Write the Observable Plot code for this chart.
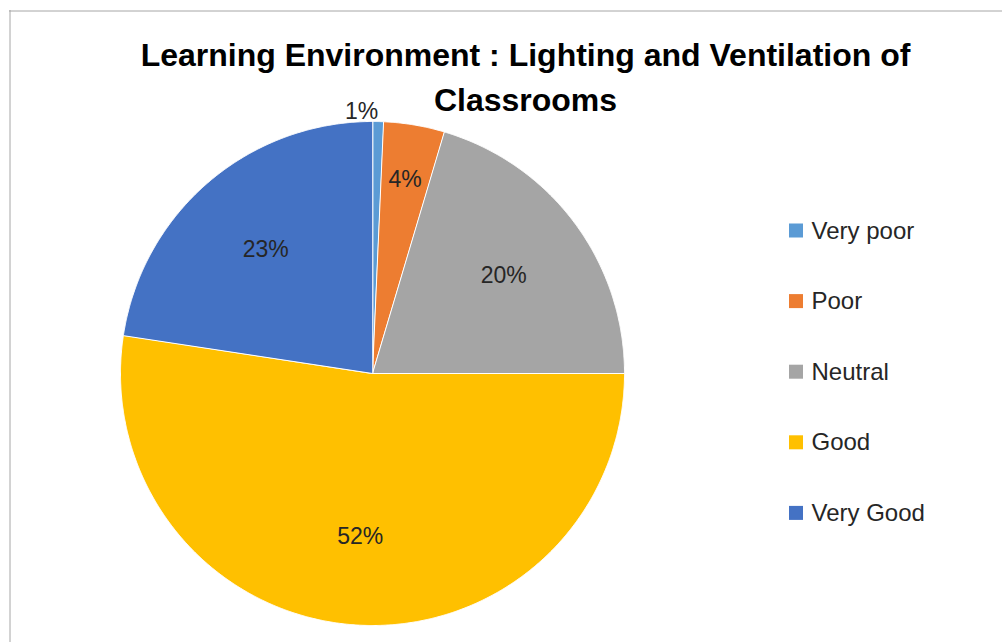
<!DOCTYPE html>
<html><head><meta charset="utf-8">
<script src="https://cdn.jsdelivr.net/npm/d3@7"></script>
<script src="https://cdn.jsdelivr.net/npm/@observablehq/plot@0.6"></script>
<style>html,body{margin:0;padding:0;background:#fff;overflow:hidden}</style>
</head><body><div id="chart"></div>
<script>
const categories = ["Very poor", "Poor", "Neutral", "Good", "Very Good"];
const values = [0.7, 3.9, 20.4, 52.4, 22.6];
const percentLabels = ["1%", "4%", "20%", "52%", "23%"];
const colors = ["#5B9BD5", "#ED7D31", "#A5A5A5", "#FFC000", "#4472C4"];
const titleLines = ["Learning Environment : Lighting and Ventilation of", "Classrooms"];

const W = 1002, H = 642, CX = 372, CY = 373, R = 252;
const total = d3.sum(values);
const slices = [];
let cum = 0;
categories.forEach((c, i) => {
  const a0 = cum / total * 2 * Math.PI;
  cum += values[i];
  const a1 = cum / total * 2 * Math.PI;
  slices.push({category: c, a0, a1, share: values[i] / total, label: percentLabels[i]});
});
const pts = [];
for (const s of slices) {
  pts.push({category: s.category, x: CX, y: CY});
  const n = Math.max(2, Math.ceil((s.a1 - s.a0) / (Math.PI / 720)));
  for (let k = 0; k <= n; k++) {
    const a = s.a0 + (s.a1 - s.a0) * k / n;
    pts.push({category: s.category, x: CX + R * Math.sin(a), y: CY - R * Math.cos(a)});
  }
}
const labelPts = slices.map(s => {
  const m = (s.a0 + s.a1) / 2;
  const f = s.share < 0.02 ? 1.04 : s.share < 0.06 ? 0.78 : 0.65;
  return {label: s.label, x: CX + R * f * Math.sin(m), y: CY - R * f * Math.cos(m), anchor: s.share < 0.02 ? "end" : "middle"};
});

const legendY = (i) => 230.5 + i * 70.6;

const chart = Plot.plot({
  width: W, height: H, margin: 0,
  x: {domain: [0, W], range: [0, W], axis: null},
  y: {domain: [0, H], range: [0, H], axis: null},
  color: {domain: categories, range: colors},
  style: {fontFamily: "Liberation Sans, Arial, sans-serif", background: "#fff"},
  marks: [
    Plot.ruleY([10.5], {x1: 9, x2: W, stroke: "#a6a6a6", strokeWidth: 1}),
    Plot.ruleX([9.5], {y1: 10, y2: H, stroke: "#a6a6a6", strokeWidth: 1}),
    Plot.line(pts, {x: "x", y: "y", z: "category", fill: "category", stroke: "white", strokeWidth: 1, curve: "linear-closed"}),
    Plot.text(labelPts.filter(d => d.anchor === "middle"), {x: "x", y: "y", text: "label", fontSize: 23, fill: "#262626", textAnchor: "middle"}),
    Plot.text(labelPts.filter(d => d.anchor === "end"), {x: "x", y: "y", text: "label", fontSize: 23, fill: "#262626", textAnchor: "end"}),
    Plot.text(titleLines, {x: () => 525, y: (d, i) => 55 + i * 45, text: d => d, fontSize: 32, fontWeight: "bold", fill: "#000", textAnchor: "middle"}),
    Plot.rect(categories, {x1: () => 789, x2: () => 803, y1: (d, i) => legendY(i) - 7, y2: (d, i) => legendY(i) + 7, fill: d => d}),
    Plot.text(categories, {x: () => 811, y: (d, i) => legendY(i), text: d => d, fontSize: 24, fill: "#262626", textAnchor: "start"})
  ]
});
document.getElementById("chart").appendChild(chart);
</script>
</body></html>
